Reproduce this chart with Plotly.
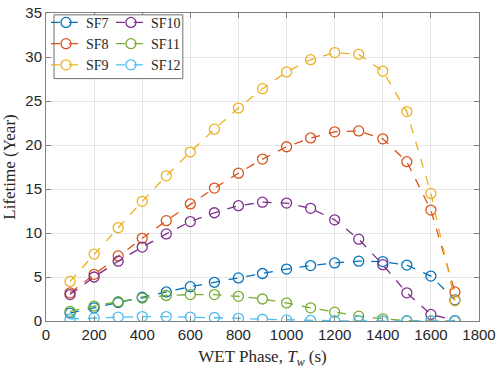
"""
    Lifetime vs WET phase for each spreading factor
"""

import plotly.graph_objs as go

wet_phase = [100, 200, 300, 400, 500, 600, 700, 800, 900, 1000, 1100, 1200, 1300, 1400, 1500, 1600, 1700]

sf7 = [0.9, 1.5, 2.1, 2.7, 3.3, 3.9, 4.4, 4.9, 5.4, 5.9, 6.3, 6.6, 6.8, 6.75, 6.35, 5.1, 2.4]
sf8 = [3.2, 5.3, 7.4, 9.4, 11.4, 13.3, 15.1, 16.8, 18.4, 19.8, 20.8, 21.5, 21.6, 20.7, 18.1, 12.6, 3.3]
sf9 = [4.5, 7.6, 10.6, 13.6, 16.5, 19.2, 21.8, 24.2, 26.4, 28.3, 29.7, 30.5, 30.3, 28.4, 23.8, 14.5, 2.3]
sf10 = [3.0, 5.0, 6.8, 8.4, 9.9, 11.3, 12.3, 13.1, 13.5, 13.4, 12.8, 11.5, 9.3, 6.4, 3.2, 0.75, 0.05]
sf11 = [1.1, 1.7, 2.2, 2.6, 2.9, 3.0, 3.0, 2.8, 2.5, 2.05, 1.5, 1.0, 0.55, 0.25, 0.05, 0.01, 0.0]
sf12 = [0.25, 0.35, 0.45, 0.5, 0.5, 0.45, 0.4, 0.3, 0.2, 0.12, 0.06, 0.03, 0.01, 0.0, 0.0, 0.0, 0.0]

names = ["SF7", "SF8", "SF9", "SF10", "SF11", "SF12"]
series = [sf7, sf8, sf9, sf10, sf11, sf12]
colors = ["#0072BD", "#D95319", "#EDB120", "#7E2F8E", "#77AC30", "#4DBEEE"]
legends = ["legend", "legend", "legend", "legend2", "legend2", "legend2"]

SERIF = "Liberation Serif"
SANS = "Liberation Sans"

data = []
for name, y, color, leg in zip(names, series, colors, legends):
    data.append(
        go.Scatter(
            x=wet_phase,
            y=y,
            name=name,
            mode="lines+markers",
            line={"color": color, "width": 1.3, "dash": "dash"},
            marker={"symbol": "circle-open", "size": 10, "color": color, "line": {"width": 1.3}},
            legend=leg,
        )
    )

axis_common = dict(
    automargin=False,
    showgrid=True,
    gridcolor="#e6e6e6",
    gridwidth=1,
    zeroline=False,
    showline=True,
    linecolor="#808080",
    linewidth=1,
    mirror="ticks",
    ticks="inside",
    ticklen=5,
    tickcolor="#808080",
    ticklabeloverflow="allow",
    tickfont={"family": SANS, "size": 15, "color": "#262626"},
)

legend_common = dict(
    bgcolor="rgba(0,0,0,0)",
    font={"family": SERIF, "size": 14, "color": "#262626"},
    xanchor="left",
    yanchor="top",
    y=1.02,
    tracegroupgap=0,
    itemwidth=30,
)

layout = go.Layout(
    template="none",
    width=498,
    height=369,
    margin={"l": 46, "r": 19, "t": 7, "b": 48},
    paper_bgcolor="white",
    plot_bgcolor="white",
    showlegend=True,
    xaxis=dict(
        axis_common,
        range=[0, 1800],
        dtick=200,
        title={"text": "WET Phase, <i>T<sub>w</sub></i> (s)", "font": {"family": SERIF, "size": 17, "color": "#262626"}},
    ),
    yaxis=dict(
        axis_common,
        range=[0, 35],
        dtick=5,
        title={"text": "Lifetime (Year)", "font": {"family": SERIF, "size": 17, "color": "#262626"}},
    ),
    legend=dict(legend_common, x=0.0),
    legend2=dict(legend_common, x=0.15),
    shapes=[
        dict(
            type="rect",
            xref="paper",
            yref="paper",
            x0=0.0185,
            x1=0.316,
            y0=0.787,
            y1=0.994,
            line={"color": "#707070", "width": 1},
            fillcolor="white",
            layer="above",
        )
    ],
)

fig = go.Figure(data=data, layout=layout)
# drop the default page margin so the figure sits at the window's top-left corner
fig.write_html(
    "out.html",
    config={"displayModeBar": False},
    post_script="document.body.style.margin = '0';",
)
